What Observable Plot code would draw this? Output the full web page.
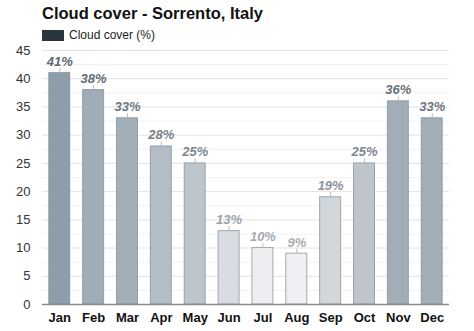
<!DOCTYPE html>
<html>
<head>
<meta charset="utf-8">
<script src="https://cdn.jsdelivr.net/npm/d3@7"></script>
<script src="https://cdn.jsdelivr.net/npm/@observablehq/plot@0.6"></script>
<style>
  html, body { margin: 0; padding: 0; background: #fff; }
  body { width: 474px; height: 331px; overflow: hidden; font-family: "Liberation Sans", Arial, sans-serif; }
  #head { position: relative; height: 44px; }
  #title { position: absolute; left: 42px; top: 4px; font-size: 16.5px; font-weight: bold; color: #111; white-space: nowrap; }
  #legend { position: absolute; left: 42px; top: 28px; display: flex; align-items: center; font-size: 12px; color: #222; }
  #legend .sw { width: 22px; height: 11px; background: #2b353e; margin-right: 5px; }
  svg { display: block; }
</style>
</head>
<body>
<div id="head">
  <div id="title">Cloud cover - Sorrento, Italy</div>
  <div id="legend"><span class="sw"></span><span>Cloud cover (%)</span></div>
</div>
<div id="chart"></div>
<script>
const months = ["Jan","Feb","Mar","Apr","May","Jun","Jul","Aug","Sep","Oct","Nov","Dec"];
const cloudCover = [41, 38, 33, 28, 25, 13, 10, 9, 19, 25, 36, 33];
const yTicks = [0, 5, 10, 15, 20, 25, 30, 35, 40, 45];
const yMinorTicks = [2.5, 7.5, 12.5, 17.5, 22.5, 27.5, 32.5, 37.5, 42.5];

const data = months.map((m, i) => ({month: m, value: cloudCover[i]}));

const labelColor = d3.scaleLinear().domain([9, 19, 41]).range(["#a9adb2", "#8a939b", "#5c6772"]);

const chart = Plot.plot({
  width: 474,
  height: 287,
  marginLeft: 42,
  marginRight: 25,
  marginTop: 6,
  marginBottom: 27,
  style: {fontFamily: "Liberation Sans, Arial, sans-serif", background: "#fff"},
  x: {domain: months, paddingInner: 0.38, paddingOuter: 0.2, round: false, label: null, tickSize: 0, tickPadding: 8},
  y: {domain: [0, 45], ticks: yTicks, label: null, tickSize: 0, tickPadding: 12},
  color: {
    type: "linear",
    domain: [9, 10, 13, 19, 25, 33, 38, 41],
    range: ["#eff0f2", "#edeef0", "#d8dde1", "#d2d7db", "#bec6cc", "#a3afb8", "#a0acb6", "#8d9dab"],
    interpolate: "rgb"
  },
  marks: [
    Plot.ruleY(yMinorTicks, {stroke: "#f2f2f2", strokeWidth: 1}),
    Plot.ruleY(yTicks.filter(t => t > 0), {stroke: "#e3e3e3", strokeWidth: 1}),
    Plot.barY(data, {x: "month", y: "value", fill: "value", stroke: "#7d8993", strokeOpacity: 0.7, strokeWidth: 1}),
    Plot.ruleX(data, {x: "month", y1: "value", y2: d => d.value + 0.8, stroke: "#b5bcc2", strokeWidth: 1}),
    Plot.text(data, {
      x: "month", y: "value", text: d => d.value + "%", dy: -7, lineAnchor: "bottom",
      fill: d => labelColor(d.value), fontSize: 13, fontWeight: "bold", fontStyle: "italic"
    }),
    Plot.ruleY([0], {stroke: "#8a8a8a", strokeWidth: 1.5}),
    Plot.axisY({ticks: yTicks, tickSize: 0, tickPadding: 12, fontSize: 13, fill: "#333", label: null}),
    Plot.axisX({tickSize: 0, tickPadding: 8, fontSize: 13, fontWeight: "bold", fill: "#111", label: null})
  ]
});
document.getElementById("chart").appendChild(chart);
</script>
</body>
</html>
